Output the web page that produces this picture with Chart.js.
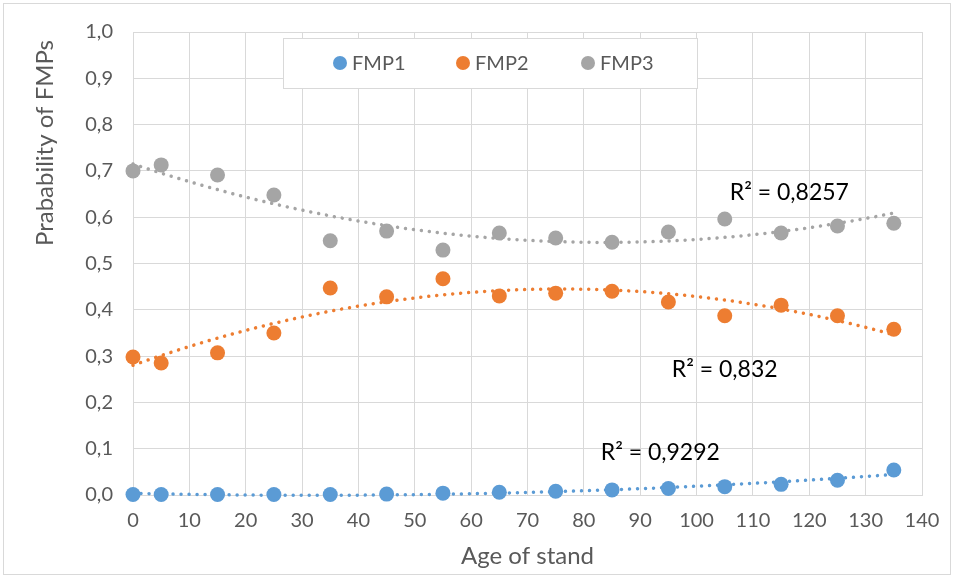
<!DOCTYPE html>
<html>
<head>
<meta charset="utf-8">
<script src="https://cdn.jsdelivr.net/npm/chart.js@4"></script>
<style>
  html, body { margin: 0; background: #fff; }
  #wrap { width: 954px; height: 578px; }
</style>
</head>
<body>
<div id="wrap"><canvas id="chart"></canvas></div>
<script>
// data
const ages = [0, 5, 15, 25, 35, 45, 55, 65, 75, 85, 95, 105, 115, 125, 135];
const fmp1 = [0.001, 0.001, 0.001, 0.001, 0.001, 0.002, 0.004, 0.006, 0.008, 0.011, 0.014, 0.018, 0.023, 0.032, 0.054];
const fmp2 = [0.298, 0.285, 0.307, 0.350, 0.447, 0.428, 0.467, 0.430, 0.436, 0.440, 0.417, 0.387, 0.410, 0.387, 0.358];
const fmp3 = [0.700, 0.713, 0.691, 0.648, 0.549, 0.570, 0.529, 0.566, 0.555, 0.546, 0.568, 0.596, 0.566, 0.581, 0.587];
const seriesNames = ['FMP1', 'FMP2', 'FMP3'];
const colors = ['#5B9BD5', '#ED7D31', '#A5A5A5'];
const r2Text = ['R² = 0,9292', 'R² = 0,832', 'R² = 0,8257'];
// where each R² label sits, in axis units (left edge, vertical middle)
const r2At = [[83, 0.091], [95.6, 0.27], [105.9, 0.654]];

const font = 'Lato';
const grey = '#595959';

// 2nd order least squares, like Excel's polynomial trendline
function fitQuadratic(xs, ys) {
  const s = [0, 0, 0, 0, 0], t = [0, 0, 0];
  xs.forEach((x, i) => {
    for (let k = 0; k < 5; k++) s[k] += Math.pow(x, k);
    for (let k = 0; k < 3; k++) t[k] += ys[i] * Math.pow(x, k);
  });
  const m = [[s[0], s[1], s[2], t[0]], [s[1], s[2], s[3], t[1]], [s[2], s[3], s[4], t[2]]];
  for (let c = 0; c < 3; c++) {
    for (let r = c + 1; r < 3; r++) {
      const f = m[r][c] / m[c][c];
      for (let k = c; k < 4; k++) m[r][k] -= f * m[c][k];
    }
  }
  const b = [0, 0, 0];
  for (let r = 2; r >= 0; r--) {
    let v = m[r][3];
    for (let k = r + 1; k < 3; k++) v -= m[r][k] * b[k];
    b[r] = v / m[r][r];
  }
  return b;
}

function trend(values) {
  const b = fitQuadratic(ages, values);
  const pts = [];
  for (let x = ages[0]; x <= ages[ages.length - 1]; x += 1) {
    pts.push({ x, y: b[0] + b[1] * x + b[2] * x * x });
  }
  return pts;
}

const allSeries = [fmp1, fmp2, fmp3];
const datasets = [];
allSeries.forEach((vals, i) => {
  datasets.push({
    label: seriesNames[i],
    data: ages.map((a, j) => ({ x: a, y: vals[j] })),
    backgroundColor: colors[i],
    borderColor: colors[i],
    pointRadius: 7.5,
    pointHoverRadius: 7.5,
    pointBorderWidth: 0,
    showLine: false,
    clip: false,
    order: 0
  });
});
allSeries.forEach((vals, i) => {
  datasets.push({
    label: seriesNames[i] + ' trend',
    data: trend(vals),
    borderColor: colors[i],
    borderWidth: 3.5,
    borderDash: [0.01, 8],
    borderCapStyle: 'round',
    pointRadius: 0,
    showLine: true,
    fill: false,
    clip: false,
    order: 1
  });
});

const extras = {
  id: 'extras',
  beforeDraw(chart) {
    const ctx = chart.ctx;
    ctx.save();
    ctx.strokeStyle = '#D9D9D9';
    ctx.lineWidth = 1;
    ctx.strokeRect(3.5, 3.5, 947, 571);
    ctx.restore();
  },
  afterDraw(chart) {
    const ctx = chart.ctx;
    const xs = chart.scales.x, ys = chart.scales.y;
    ctx.save();
    // y axis title, top aligned a little under the plot top
    ctx.fillStyle = grey;
    ctx.font = '24px ' + font;
    ctx.textBaseline = 'middle';
    ctx.textAlign = 'right';
    ctx.translate(45, 40);
    ctx.rotate(-Math.PI / 2);
    ctx.fillText('Prabability of FMPs', 0, 0);
    ctx.setTransform(1, 0, 0, 1, 0, 0);
    // R² labels
    ctx.fillStyle = '#000';
    ctx.font = '23px ' + font;
    ctx.textAlign = 'left';
    r2Text.forEach((t, i) => {
      ctx.fillText(t, xs.getPixelForValue(r2At[i][0]), ys.getPixelForValue(r2At[i][1]));
    });
    // legend box inside the plot
    ctx.fillStyle = '#fff';
    ctx.fillRect(283.5, 38.5, 414, 50);
    ctx.strokeStyle = '#D9D9D9';
    ctx.lineWidth = 1;
    ctx.strokeRect(283.5, 38.5, 414, 50);
    const dotX = [340, 463, 588];
    ctx.font = '20px ' + font;
    seriesNames.forEach((n, i) => {
      ctx.fillStyle = colors[i];
      ctx.beginPath();
      ctx.arc(dotX[i], 63, 7, 0, Math.PI * 2);
      ctx.fill();
      ctx.fillStyle = grey;
      ctx.fillText(n, dotX[i] + 12, 64);
    });
    ctx.restore();
  }
};

new Chart(document.getElementById('chart'), {
  type: 'scatter',
  data: { datasets },
  options: {
    responsive: true,
    maintainAspectRatio: false,
    animation: false,
    events: [],
    layout: { padding: { top: 32, right: 32, left: 0, bottom: 0 } },
    plugins: { legend: { display: false }, tooltip: { enabled: false } },
    scales: {
      x: {
        type: 'linear',
        min: 0,
        max: 140,
        afterFit: s => { s.height = 83; },
        ticks: { stepSize: 10, color: grey, padding: 14, font: { family: font, size: 20 } },
        grid: { color: '#D9D9D9', drawTicks: false },
        border: { color: '#D9D9D9' },
        title: { display: true, text: 'Age of stand', color: grey, font: { family: font, size: 24 }, padding: { top: 0, bottom: 7 } }
      },
      y: {
        min: 0,
        max: 1,
        afterFit: s => { s.width = 133; },
        ticks: {
          stepSize: 0.1,
          color: grey,
          padding: 20,
          font: { family: font, size: 20 },
          callback: v => v.toFixed(1).replace('.', ',')
        },
        grid: { color: '#D9D9D9', drawTicks: false },
        border: { color: '#D9D9D9' }
      }
    }
  },
  plugins: [extras]
});
</script>
</body>
</html>
